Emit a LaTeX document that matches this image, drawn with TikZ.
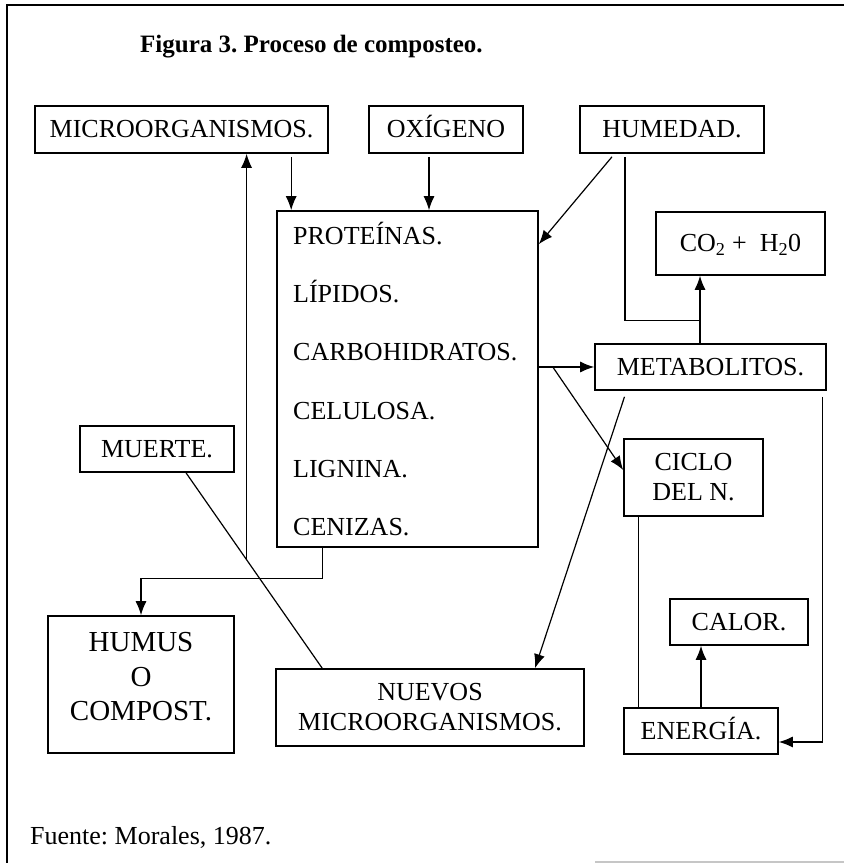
\documentclass[tikz,border=0pt]{standalone}
\usepackage{fontspec}
\setmainfont{Liberation Serif}
\usetikzlibrary{arrows.meta,calc}
\frenchspacing
\begin{document}
\begin{tikzpicture}[x=1pt,y=1pt,font=\fontsize{26}{30}\selectfont,
  caja/.style={draw,line width=1.6pt,inner sep=0pt,align=center},
  una/.style={caja,text height=20pt,text depth=3pt},
  flecha/.style={-{Latex[length=14pt,width=11pt]},line width=1.2pt},
  linea/.style={line width=1.2pt}]
\useasboundingbox (0,0) rectangle (844,863);
\draw[line width=1.6pt] (7,0)--(7,858)--(844,858);
\draw[gray!45,line width=1.5pt] (595,1)--(844,1);
\node[anchor=west,inner sep=0pt,font=\fontsize{25}{30}\selectfont\bfseries] (titulo) at (140,816) {Figura 3. Proceso de composteo.};
% cajas de arriba
\node[una,minimum width=293pt,minimum height=47pt] (micro) at (181.5,733.5) {MICROORGANISMOS.};
\node[una,minimum width=154pt,minimum height=47pt] (oxig) at (446,733.5) {OX\'IGENO};
\node[una,minimum width=184pt,minimum height=47pt] (humed) at (672,733.5) {HUMEDAD.};
% caja de componentes
\node[caja,minimum width=261pt,minimum height=336pt] (comp) at (407.5,484) {};
\foreach \t [count=\i] in {PROTE\'INAS.,L\'IPIDOS.,CARBOHIDRATOS.,CELULOSA.,LIGNINA.,CENIZAS.}
  \node[anchor=west,inner sep=0pt,text height=20pt,text depth=3pt] (comp\i) at (293,{627-(\i-1)*58.2}) {\t};
\node[una,minimum width=169pt,minimum height=63pt] (co2) at (740.5,619.5) {CO\textsubscript{2} + \ H\textsubscript{2}0};
\node[una,minimum width=231pt,minimum height=46pt] (metab) at (710.5,496) {METABOLITOS.};
\node[caja,minimum width=139pt,minimum height=77pt] (ciclo) at (693.5,385.5) {CICLO\\DEL N.};
\node[una,minimum width=154pt,minimum height=46pt] (muerte) at (157,414) {MUERTE.};
\node[caja,minimum width=186pt,minimum height=137pt] (humus) at (141,178.5) {};
\node[align=center,inner sep=0pt,font=\fontsize{29}{34.5}\selectfont] (humustxt) at ($(humus.center)+(0,7.5)$) {HUMUS\\O\\COMPOST.};
\node[caja,minimum width=308pt,minimum height=77pt] (nuevos) at (430,155.5) {NUEVOS\\MICROORGANISMOS.};
\node[una,minimum width=138pt,minimum height=46pt] (calor) at (739,241) {CALOR.};
\node[una,minimum width=154pt,minimum height=46pt] (energia) at (701,132) {ENERG\'IA.};
\node[anchor=west,inner sep=0pt] (fuente) at (30,26) {Fuente: Morales, 1987.};
% conectores
\draw[flecha] ($(micro.south -| comp.north west)+(15,-3)$) -- ($(comp.north west)+(15,0)$);
\draw[flecha] ($(oxig.south)+(-17,-3)$) -- ($(oxig.south |- comp.north)+(-17,0)$);
\draw[flecha] ($(humed.south)+(-60,-3)$) -- ($(comp.north east)+(0,-34)$);
\coordinate (j1) at ($(metab.north)+(-10.5,23)$);
\draw[linea] ($(humed.south)+(-47,-3)$) |- (j1);
\draw[flecha] (j1 |- metab.north) -- (j1 |- co2.south);
\draw[flecha] (comp.east |- metab.west) -- (metab.west);
\coordinate (j2) at ($(comp.east |- metab.west)+(14,0)$);
\draw[flecha] (j2) -- ($(ciclo.west)+(0,7.5)$);
\draw[flecha] ($(metab.south)+(-86,-6)$) -- ($(nuevos.north)+(105,0)$);
\draw[flecha] ($(metab.south east)+(-4,-6)$) |- ($(energia.east)+(0,-11)$);
\draw[linea] ($(ciclo.south west)+(15,0)$) coordinate (c1) -- (c1 |- energia.north);
\draw[flecha] (energia.north) -- (energia.north |- calor.south);
\draw[linea] ($(muerte.south)+(29,0)$) coordinate (m0) -- ($(nuevos.north west)+(47,0)$) coordinate (m2);
\coordinate (m1) at ($(m0)!0.445!(m2)$);
\draw[flecha] (m1) -- (m1 |- micro.south);
\draw[flecha] ($(comp.south west)+(46,0)$) -- ++(0,-31) -| (humus.north);
\end{tikzpicture}
\end{document}
